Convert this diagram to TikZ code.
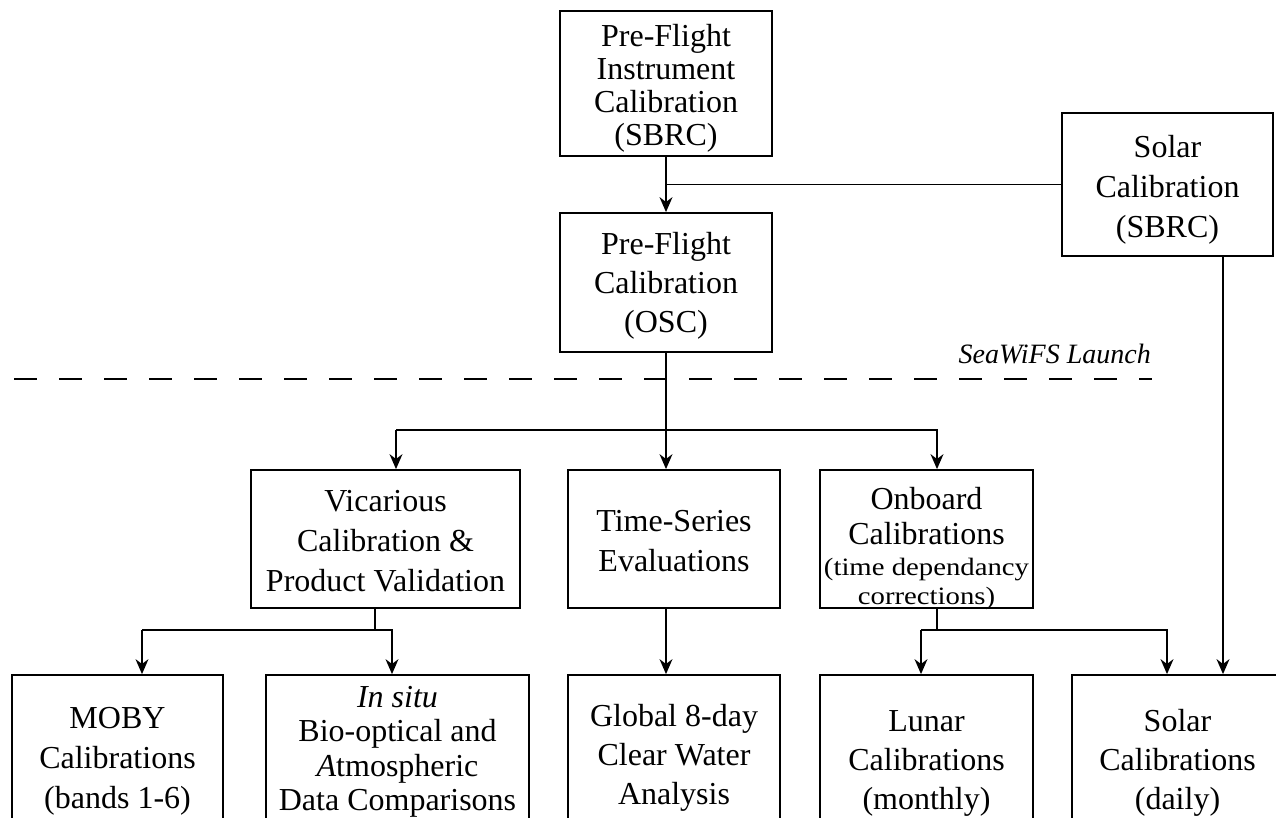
\documentclass[tikz,border=0pt]{standalone}
\usepackage{fontspec}
\setmainfont{Liberation Serif}
\newfontfamily\widefont[FakeStretch=1.15]{Liberation Serif}
\usetikzlibrary{arrows.meta}
\newcommand{\tstrut}{\rule{0pt}{32pt}}
\newcommand{\ustrut}{\rule{0pt}{26pt}}
\newcommand{\sstrut}{\rule{0pt}{25pt}}
\begin{document}
\begin{tikzpicture}[x=1pt,y=-1pt,
  box/.style={draw, line width=1.8pt, inner sep=0pt, align=center},
  t40/.style={font=\fontsize{32}{40}\selectfont},
  t39/.style={font=\fontsize{32}{39}\selectfont},
  txt/.style={inner sep=0pt, align=center, anchor=north},
  conn/.style={line width=1.3pt},
  arr/.style={conn, -{Stealth[length=15pt,width=13pt]}}]
\useasboundingbox (0,0) rectangle (1276,818);
\clip (0,0) rectangle (1276,818);
% top
\node[box, font=\fontsize{32}{33}\selectfont, minimum width=212pt, minimum height=145pt] (pfi) at (666,83.5) {\tstrut Pre-Flight\\Instrument\\Calibration\\(SBRC)};
\node[box, t40, minimum width=211pt, minimum height=143pt] (solar) at (1167.5,184.5) {\tstrut Solar\\Calibration\\(SBRC)};
\node[box, t39, minimum width=212pt, minimum height=139pt] (osc) at (666,282.5) {\rule{0pt}{28pt}Pre-Flight\\Calibration\\(OSC)};
% launch line
\draw[line width=1.4pt, dash pattern=on 23pt off 22pt] (14,379) coordinate (dl) -- (1152,379) coordinate (dr);
\node[anchor=base east, inner sep=0pt, font=\fontsize{28}{34}\selectfont\itshape] (launch) at (1151,363) {SeaWiFS Launch};
% second row
\node[box, t40, minimum width=269pt, minimum height=138pt] (vic) at (385.5,539) {\ustrut Vicarious\\Calibration \&\\Product Validation};
\node[box, t40, minimum width=212pt, minimum height=138pt] (ts) at (674,539) {\ustrut Time-Series\\Evaluations};
\node[box, minimum width=213pt, minimum height=138pt] (onb) at (926.5,539) {};
\node[txt, font=\fontsize{32}{35}\selectfont] (onbt1) at (926.5,477) {\tstrut Onboard\\Calibrations};
\node[txt, font=\fontsize{25}{29}\selectfont\widefont] (onbt2) at (926.5,550) {\sstrut(time dependancy\\corrections)};
% bottom row boxes
\node[box, minimum width=211pt, minimum height=200pt] (moby) at (117.5,775) {};
\node[box, minimum width=263pt, minimum height=200pt] (insitu) at (397.5,775) {};
\node[box, minimum width=212pt, minimum height=200pt] (glob) at (674,775) {};
\node[box, minimum width=213pt, minimum height=200pt] (lunar) at (926.5,775) {};
\node[box, minimum width=211pt, minimum height=200pt] (solarc) at (1177.5,775) {};
% bottom row texts
\node[txt, t40] (mobyt) at (117.5,696) {\tstrut MOBY\\Calibrations\\(bands 1-6)};
\node[txt, font=\fontsize{32}{34.5}\selectfont] (insitut) at (397.5,675) {\tstrut\textit{In situ}\\Bio-optical and\\\textit{A}tmospheric\\Data Comparisons};
\node[txt, t39] (globt) at (674,694) {\tstrut Global 8-day\\Clear Water\\Analysis};
\node[txt, t39] (lunart) at (926.5,699) {\tstrut Lunar\\Calibrations\\(monthly)};
\node[txt, t39] (solarct) at (1177.5,699) {\tstrut Solar\\Calibrations\\(daily)};
% connectors
\coordinate (cx) at (666,0);
\draw[arr] (pfi.south -| cx) -- (osc.north -| cx);
\draw[conn] (solar.west) -- (solar.west -| cx);
\coordinate (sx) at (1223,0);
\draw[arr] (solar.south -| sx) -- (solarc.north -| sx);
% OSC fan-out
\coordinate (b1) at (0,430);
\coordinate (vx) at (396,0);
\coordinate (ox) at (937,0);
\draw[conn] (osc.south -| cx) -- (b1 -| cx);
\draw[arr] (b1 -| vx) -- (vic.north -| vx);
\draw[arr] (b1 -| cx) -- (ts.north -| cx);
\draw[arr] (b1 -| vx) -- (b1 -| ox) -- (onb.north -| ox);
% vicarious fan-out
\coordinate (b2) at (0,630);
\coordinate (vbx) at (375,0);
\coordinate (mx) at (142,0);
\coordinate (ix) at (392,0);
\draw[conn] (vic.south -| vbx) -- (b2 -| vbx);
\draw[arr] (b2 -| mx) -- (moby.north -| mx);
\draw[arr] (b2 -| mx) -- (b2 -| ix) -- (insitu.north -| ix);
% time series
\draw[arr] (ts.south -| cx) -- (glob.north -| cx);
% onboard fan-out
\coordinate (lx) at (921,0);
\coordinate (scx) at (1167,0);
\draw[conn] (onb.south -| ox) -- (b2 -| ox);
\draw[arr] (b2 -| lx) -- (lunar.north -| lx);
\draw[arr] (b2 -| lx) -- (b2 -| scx) -- (solarc.north -| scx);
\end{tikzpicture}
\end{document}
